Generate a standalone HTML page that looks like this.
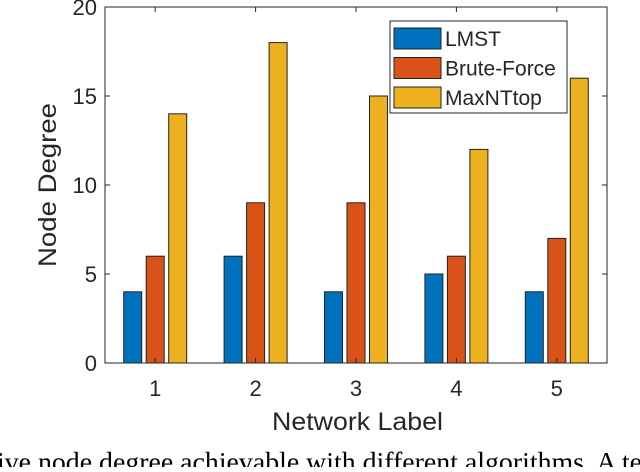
<!DOCTYPE html>
<html><head><meta charset="utf-8"><style>
body{margin:0;background:#fff;width:640px;height:467px;overflow:hidden}
text{font-family:"Liberation Sans",sans-serif;fill:#262626}
</style></head><body>
<svg id="c" width="640" height="467">
<g id="bars"></g>
<g id="axes"></g>
<text x="-3" y="471" textLength="645" lengthAdjust="spacingAndGlyphs" style="font-family:'Liberation Serif',serif;font-size:27px;fill:#000">ive node degree achievable with different algorithms. A te</text>
</svg>
<script>
const categories=[1,2,3,4,5];
const lmst=[4,6,4,5,4];
const brute=[6,9,9,6,7];
const maxnt=[14,18,15,12,16];
const yTicks=[0,5,10,15,20];
const seriesNames=["LMST","Brute-Force","MaxNTtop"];
const colors=["#0072BD","#D95319","#EDB120"];
const L=105,R=607,T=7,B=363;
const x=v=>L+(v-0.5)*(R-L)/5;
const y=v=>B-v*(B-T)/20;
const NS="http://www.w3.org/2000/svg";
function mk(p,tag,a){const e=document.createElementNS(NS,tag);for(const k in a)e.setAttribute(k,a[k]);p.appendChild(e);return e;}
const bars=document.getElementById('bars'),axes=document.getElementById('axes');
const series=[lmst,brute,maxnt],offs=[-22.5,0,22.5];
series.forEach((s,si)=>s.forEach((v,i)=>{
 const r=mk(bars,'rect',{x:x(categories[i])+offs[si]-9,y:y(v),width:18,height:y(0)-y(v),fill:colors[si],stroke:'#222','stroke-width':1});
 
 
}));
const box=mk(axes,'rect',{x:L,y:T,width:R-L,height:B-T,fill:'none',stroke:'#262626','stroke-width':1});


yTicks.forEach(t=>{
 mk(axes,'line',{x1:L,x2:L+5,y1:y(t),y2:y(t),stroke:'#262626'});
 mk(axes,'line',{x1:R,x2:R-5,y1:y(t),y2:y(t),stroke:'#262626'});
 const tx=mk(axes,'text',{x:L-8,y:y(t)+8,'text-anchor':'end','font-size':22});
 tx.textContent=t;
 
 
});
categories.forEach(c=>{
 mk(axes,'line',{x1:x(c),x2:x(c),y1:B,y2:B-5,stroke:'#262626'});
 mk(axes,'line',{x1:x(c),x2:x(c),y1:T,y2:T+5,stroke:'#262626'});
 const tx=mk(axes,'text',{x:x(c),y:B+33,'text-anchor':'middle','font-size':22});
 tx.textContent=c;
 
 
});
const xt=mk(axes,'text',{x:272,y:430,'font-size':25,textLength:171,lengthAdjust:'spacingAndGlyphs'});
xt.textContent='Network Label';


const yt=mk(axes,'text',{x:-82,y:0,'font-size':25,textLength:164,lengthAdjust:'spacingAndGlyphs',transform:`translate(56,${(T+B)/2}) rotate(-90)`});
yt.textContent='Node Degree';


const lg=mk(axes,'g',{});


mk(lg,'rect',{x:390,y:21,width:177,height:92,fill:'#fff',stroke:'#262626'});
seriesNames.forEach((n,i)=>{
 const sw=mk(lg,'rect',{x:394,y:28+i*29.5,width:47,height:21,fill:colors[i],stroke:'#222'});
 
 
 const t=mk(lg,'text',{x:445,y:46+i*29.5,'font-size':21,fill:'#000'});
 t.textContent=n;
 
 
});
</script>
</body></html>
